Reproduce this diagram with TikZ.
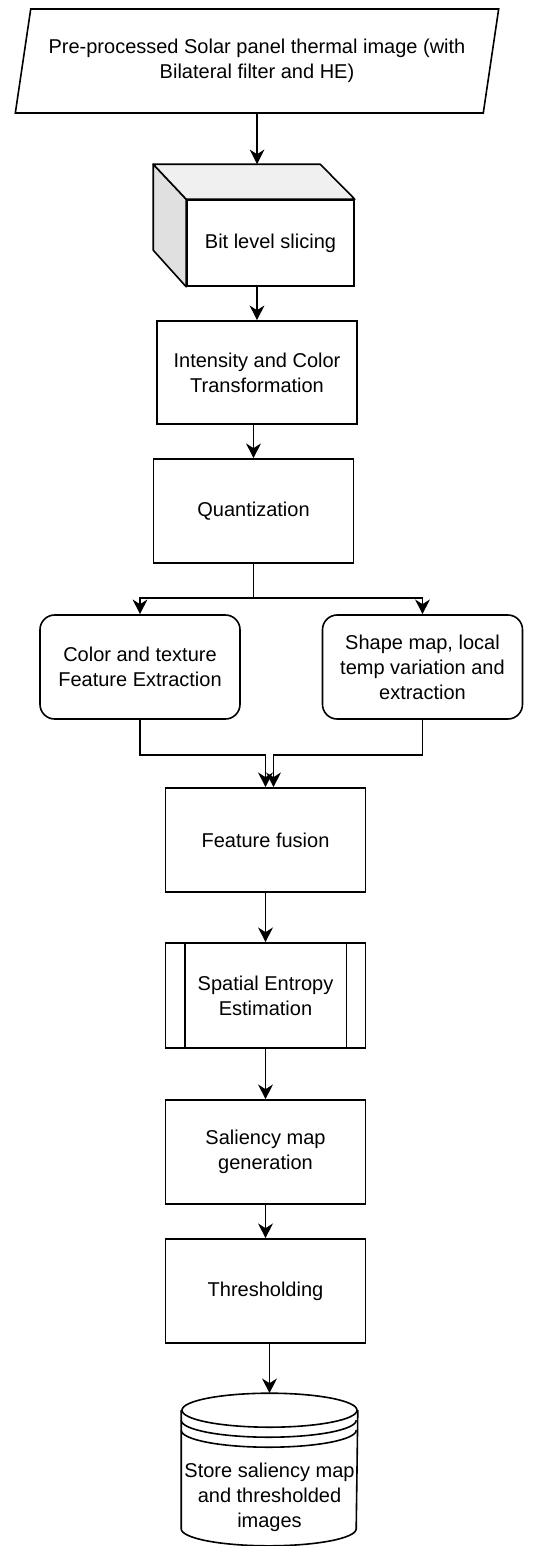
\documentclass[tikz,border=0pt]{standalone}
\usepackage{fontspec}
\setmainfont{Liberation Sans}
\usetikzlibrary{arrows.meta,calc,positioning,shapes.geometric}

\begin{document}
\begin{tikzpicture}[x=0.75pt, y=-0.75pt, line width=1.2pt,
    flow/.style={-{Stealth[length=11pt,width=11pt,inset=3.5pt]}},
    every node/.style={font=\fontsize{15}{18.75}\selectfont, align=center, inner sep=0pt},
    process/.style={draw, minimum width=150pt, minimum height=78pt},
    inputbox/.style={draw, trapezium, trapezium left angle=72, trapezium right angle=108,
      trapezium stretches=true, minimum width=363pt, minimum height=78pt},
    featbox/.style={draw, rounded corners=11pt, minimum width=150pt, minimum height=78pt},
    plain/.style={minimum width=131.25pt, minimum height=113.25pt}]

  \useasboundingbox (0,0) rectangle (544,1546);

  \node [inputbox] (prep) at (257,61)
    {Pre-processed Solar panel thermal image (with\\ Bilateral filter and HE)};

  \node [draw, fill=white, minimum width=125.25pt, minimum height=64.5pt] (slice) at (270.5,243)
    {Bit level slicing};
  \filldraw [fill=black!12, line join=round] (slice.north west) -- ++(-33,-35) -- ++(0,86)
    -- (slice.south west) -- cycle;
  \filldraw [fill=black!6, line join=round] (slice.north west) -- ++(-33,-35) -- ++(167,0)
    -- (slice.north east) -- cycle;
  \coordinate (sliceback) at ($(slice.north)+(-33,-35)$);

  \node [process, minimum height=77.25pt] (trans) at (257,372.5) {Intensity and Color\\ Transformation};

  \node [process] (quant) at (253.5,511) {Quantization};

  \coordinate (split) at (253.5,598);

  \node [featbox] (colfeat) at (140,667) {Color and texture\\ Feature Extraction};

  \node [featbox] (shapefeat) at (422.5,667) {Shape map, local\\ temp variation and\\ extraction};

  \node [process] (fusion) at (265.5,840) {Feature fusion};

  \node [process, minimum height=78.75pt] (entropy) at (265.5,995.5) {Spatial Entropy\\ Estimation};
  \draw ($(entropy.north west)+(20,0)$) -- ($(entropy.south west)+(20,0)$);
  \draw ($(entropy.north east)+(-20,0)$) -- ($(entropy.south east)+(-20,0)$);

  \node [process] (saliency) at (265.5,1152) {Saliency map\\ generation};

  \node [process] (thresh) at (265.5,1291) {Thresholding};

  \node [plain] (store) at (269.5,1469.5) {};
  \draw ($(store.north)+(0,17)$) ellipse [x radius=65.625pt, y radius=12.75pt];
  \draw ($(store.north west)+(0,17)$) -- ($(store.south west)+(0,-17)$)
    arc [start angle=180, end angle=360, x radius=65.625pt, y radius=12.75pt]
    -- ($(store.north east)+(0,17)$);
  \draw ($(store.north west)+(0,27)$) arc [start angle=180, end angle=360, x radius=65.625pt, y radius=12.75pt];
  \draw ($(store.north west)+(0,37)$) arc [start angle=180, end angle=360, x radius=65.625pt, y radius=12.75pt];
  \node (storetext) at ($(store.center)+(0,27.5)$) {Store saliency map\\ and thresholded\\ images};

  %
  \draw [flow] (prep.south) -- (prep.south |- sliceback);
  \draw [flow] (trans.north |- slice.south) -- (trans.north);
  \draw [flow] (quant.north |- trans.south) -- (quant.north);
  \draw (quant.south) -- (split);
  \draw [flow] (split) -| (colfeat.north);
  \draw [flow] (split) -| (shapefeat.north);
  \draw [flow] (colfeat.south) -- ++(0,35) -| (fusion.north);
  \draw [flow] (shapefeat.south) -- ++(0,35) -| ($(fusion.north)+(8,0)$);
  \draw [flow] (fusion) -- (entropy);
  \draw [flow] (entropy) -- (saliency);
  \draw [flow] (saliency) -- (thresh);
  \draw [flow] (store.north |- thresh.south) -- (store.north);

\end{tikzpicture}
\end{document}
